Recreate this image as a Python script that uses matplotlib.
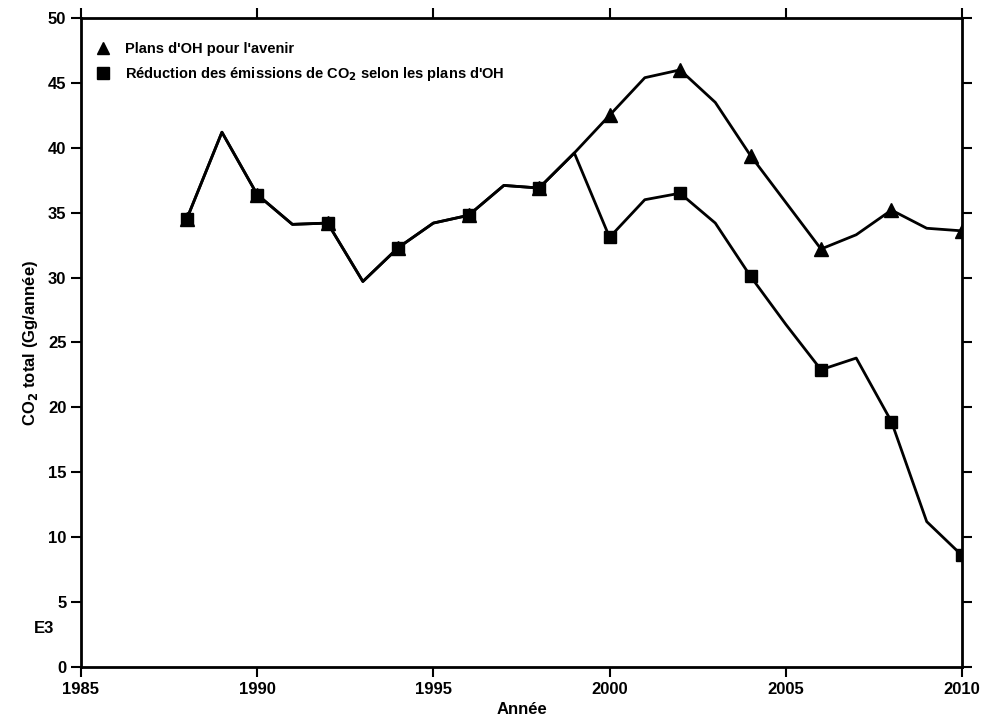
import matplotlib
matplotlib.use("Agg")
import matplotlib.pyplot as plt
from matplotlib.lines import Line2D

plt.rcParams['font.family'] = ['Liberation Sans', 'DejaVu Sans']
plt.rcParams['font.weight'] = 'bold'

years = list(range(1988, 2011))
plans_oh = [34.5, 41.2, 36.4, 34.1, 34.2, 29.7, 32.3, 34.2, 34.8, 37.1, 36.9, 39.6,
            42.5, 45.4, 46.0, 43.5, 39.4, 35.8, 32.2, 33.3, 35.2, 33.8, 33.6]
reduction = [34.5, 41.2, 36.4, 34.1, 34.2, 29.7, 32.3, 34.2, 34.8, 37.1, 36.9, 39.6,
             33.1, 36.0, 36.5, 34.2, 30.1, 26.4, 22.9, 23.8, 18.9, 11.2, 8.6]
label_plans = "Plans d'OH pour l'avenir"
label_red = "Réduction des émissions de CO$_2$ selon les plans d'OH"

fig = plt.figure(figsize=(9.85, 7.28), dpi=100)
ax = fig.add_axes([0.0822, 0.0838, 0.8944, 0.8915])

ax.plot(years, plans_oh, color='black', lw=2.0, marker='^', markersize=10,
        markevery=2, zorder=3)
ax.plot(years, reduction, color='black', lw=2.0, marker='s', markersize=9,
        markevery=2, zorder=4)

ax.set_xlim(1985, 2010)
ax.set_ylim(0, 50)
ax.set_xticks(range(1985, 2011, 5))
ax.set_yticks(range(0, 51, 5))
ax.tick_params(axis='both', direction='out', length=7, width=1.5, labelsize=12,
               top=True, right=True)
for lab in ax.get_xticklabels() + ax.get_yticklabels():
    lab.set_fontweight('bold')
for s in ax.spines.values():
    s.set_linewidth(2)

ax.set_xlabel("Année", fontsize=12, fontweight='bold', labelpad=4)
ax.set_ylabel("CO$_2$ total (Gg/année)", fontsize=12, fontweight='bold', labelpad=6)

ax.text(-0.03, 0.06, "E3", transform=ax.transAxes, ha='right', va='center',
        fontsize=12, fontweight='bold')

handles = [Line2D([], [], color='black', marker='^', linestyle='none', markersize=9),
           Line2D([], [], color='black', marker='s', linestyle='none', markersize=9)]
leg = ax.legend(handles, [label_plans, label_red], loc='upper left', frameon=False,
                fontsize=10.5, handlelength=1.0, handletextpad=1.0,
                borderaxespad=0.6, labelspacing=0.6, bbox_to_anchor=(0.0, 0.985))
for t in leg.get_texts():
    t.set_fontweight('bold')

fig.savefig("out.png", dpi=100)
